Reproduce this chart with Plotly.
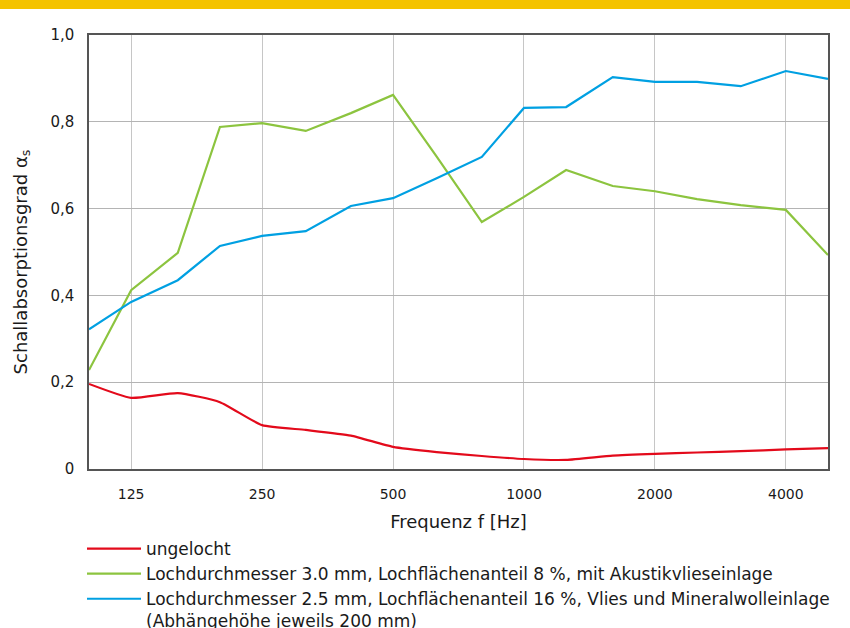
import plotly.graph_objects as go

freqs = [100, 125, 160, 200, 250, 315, 400, 500, 630, 800, 1000, 1250, 1600, 2000, 2500, 3150, 4000, 5000]

ungelocht = [0.196, 0.164, 0.175, 0.154, 0.101, 0.090, 0.077, 0.051, 0.039, 0.030, 0.023, 0.021, 0.031, 0.035, 0.038, 0.041, 0.045, 0.048]
loch_30 = [0.228, 0.412, 0.498, 0.788, 0.797, 0.779, 0.820, 0.862, 0.720, 0.569, 0.627, 0.689, 0.652, 0.640, 0.622, 0.608, 0.597, 0.493]
loch_25 = [0.322, 0.385, 0.435, 0.514, 0.537, 0.548, 0.606, 0.624, 0.670, 0.719, 0.832, 0.834, 0.903, 0.892, 0.892, 0.882, 0.917, 0.899]

names = [
    "ungelocht",
    "Lochdurchmesser 3.0 mm, Lochflächenanteil 8 %, mit Akustikvlieseinlage",
    "Lochdurchmesser 2.5 mm, Lochflächenanteil 16 %, Vlies und Mineralwolleinlage<br>(Abhängehöhe jeweils 200 mm)",
]
colors = ["#E30A1B", "#8CC43F", "#00A0E2"]

x_ticks = [125, 250, 500, 1000, 2000, 4000]
x_ticklabels = ["125", "250", "500", "1000", "2000", "4000"]
y_ticks = [0, 0.2, 0.4, 0.6, 0.8, 1.0]
y_ticklabels = ["0", "0,2", "0,4", "0,6", "0,8", "1,0"]

FONT = "DejaVu Sans"
TXT = "#1a1a1a"

fig = go.Figure()
for i, (vals, nm, col) in enumerate(zip([ungelocht, loch_30, loch_25], names, colors)):
    fig.add_trace(go.Scatter(
        x=freqs, y=vals, mode="lines", name=nm,
        line=dict(color=col, width=2.2, shape="spline" if i == 0 else "linear", smoothing=0.5),
    ))

fig.update_layout(
    width=850, height=628,
    margin=dict(l=89, r=22, t=35, b=159, autoexpand=False),
    paper_bgcolor="white", plot_bgcolor="white",
    font=dict(family=FONT, size=14, color=TXT),
    showlegend=True,
    legend=dict(
        xref="container", yref="container",
        x=82 / 850, y=1 - 531 / 628, xanchor="left", yanchor="top",
        font=dict(family=FONT, size=17, color=TXT),
        valign="top", bgcolor="rgba(0,0,0,0)", itemwidth=54,
        borderwidth=0,
    ),
    shapes=[dict(type="rect", xref="paper", yref="paper",
                 x0=-0.2, x1=1.1, y0=1.0 + 26 / 434, y1=1.2,
                 fillcolor="#F4C300", line=dict(width=0), layer="above")],
    annotations=[dict(
        text="Schallabsorptionsgrad α<sub>s</sub>", textangle=-90,
        xref="paper", yref="paper", x=(22 - 89) / 739, y=0.476,
        xanchor="center", yanchor="middle", showarrow=False,
        font=dict(family=FONT, size=18, color=TXT),
    )],
)

fig.update_xaxes(
    type="log", range=[2, 3.69897],
    tickvals=x_ticks, ticktext=x_ticklabels,
    showgrid=True, gridcolor="#c6c6c6", gridwidth=1.3,
    showline=True, linecolor="#555555", linewidth=1.5, mirror=True,
    ticks="", ticklabelstandoff=11,
    tickfont=dict(size=14),
    title=dict(text="Frequenz f [Hz]", font=dict(size=18), standoff=15),
    zeroline=False,
)
fig.update_yaxes(
    range=[0, 1.0],
    tickvals=y_ticks, ticktext=y_ticklabels,
    showgrid=True, gridcolor="#b4b4b4", gridwidth=1.1,
    showline=True, linecolor="#555555", linewidth=1.5, mirror=True,
    ticks="", ticklabelstandoff=10,
    tickfont=dict(size=15),
    zeroline=False,
)

fig.write_html("out.html", config={"displayModeBar": False},
               post_script="document.body.style.margin='0';")
